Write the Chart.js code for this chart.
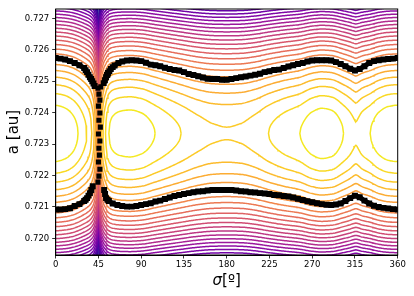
<!DOCTYPE html>
<html><head><meta charset="utf-8">
<script src="https://cdn.jsdelivr.net/npm/chart.js@4.4.1/dist/chart.umd.min.js"></script>
<style>html,body{margin:0;padding:0;background:#fff;}</style>
</head><body>
<canvas id="c" width="414" height="296"></canvas>
<script>
// ---- tick labels ----
const xTicks = [0, 45, 90, 135, 180, 225, 270, 315, 360];
const yTicks = [0.720, 0.721, 0.722, 0.723, 0.724, 0.725, 0.726, 0.727];

// ---- contour field: estimated potential profile g(sigma); contour lines satisfy d^2 + g = level, d in 1e-3 au ----
const sigmaNodes = [0, 10, 18, 23.5, 28, 32.6, 36, 38, 39, 40, 41, 42, 43, 44, 45, 46, 47, 48, 49, 50, 51, 52.5,
  54, 56, 60, 68, 78, 90, 104.6, 118, 132, 150, 165, 180, 195, 210, 224, 240, 257, 270, 280, 290, 303, 310, 313,
  316, 319, 322, 331, 340, 350, 360];
const potentialNodes = [0.05, 0.2, 0.5, 0.85, 1.22, 1.65, 2.05, 2.45, 2.7, 3.0, 3.5, 4.0, 4.6, 5.5, 1000, 5.5, 4.2,
  3.4, 2.8, 2.4, 2.0, 1.65, 1.2, 0.85, 0.55, 0.35, 0.29, 0.42, 0.85, 1.25, 1.65, 2.12, 2.35, 2.41, 2.35, 2.08, 1.65,
  1.22, 0.85, 0.38, 0.21, 0.3, 0.85, 1.2, 1.38, 1.51, 1.38, 1.2, 0.85, 0.4, 0.12, 0.05];
const contourLevels = [0.85, 1.65, 2.45, 3.25, 4.05, 4.85, 5.65, 6.45, 7.25, 8.05, 8.85, 9.65, 10.45, 11.25,
  12.05, 12.85, 13.65, 14.45, 15.25, 16.05, 16.85, 17.65, 18.45, 19.25, 20.05, 20.85, 21.65];
const colorRange = [0.05, 21.65];
const centerA = 0.72334;
const levelUnit = 0.001;
const gridStep = 1;

// ---- orbit (black squares) ----
const orbitUpperSigma = [0,5,10,15,20,25,30,31.5,33,34.5,36,37.3,38.5,39.8,41,50.5,51.8,53,54,55,56.5,58,60,62,66,70,75,80,85,90,95,100,105,110,115,120,125,130,135,140,145,150,155,160,165,170,175,180,185,190,195,200,205,210,215,220,225,230,235,240,245,250,255,260,265,270,275,280,285,290,295,300,305,310,315,320,325,330,335,340,345,350,355,360];
const orbitUpperA = [0.72574,0.72572,0.72569,0.72564,0.72558,0.72551,0.72542,0.72535,0.72529,0.72521,0.72513,0.72507,0.72500,0.72493,0.72485,0.72494,0.72503,0.72513,0.72520,0.72526,0.72532,0.72539,0.72545,0.72550,0.72558,0.72563,0.72566,0.72567,0.72566,0.72564,0.72559,0.72553,0.72551,0.72548,0.72543,0.72539,0.72536,0.72534,0.72529,0.72523,0.72520,0.72516,0.72512,0.72508,0.72507,0.72507,0.72505,0.72505,0.72507,0.72510,0.72513,0.72515,0.72518,0.72521,0.72524,0.72529,0.72532,0.72536,0.72537,0.72542,0.72547,0.72551,0.72555,0.72558,0.72563,0.72566,0.72567,0.72567,0.72567,0.72566,0.72561,0.72555,0.72548,0.72540,0.72534,0.72539,0.72548,0.72558,0.72564,0.72567,0.72569,0.72571,0.72572,0.72574];
const orbitLowerSigma = [0,5,10,15,20,25,30,31.5,33,34.5,36,37.5,39,51,52,53,54.5,56,60,65,70,75,80,85,90,95,100,105,110,115,120,125,130,135,140,145,150,155,160,165,170,175,180,185,190,195,200,205,210,215,220,225,230,235,240,245,250,255,260,265,270,275,280,285,290,295,300,305,310,315,320,325,330,335,340,345,350,355,360];
const orbitLowerA = [0.72092,0.72092,0.72093,0.72096,0.72103,0.72109,0.72119,0.72123,0.72128,0.72136,0.72144,0.72154,0.72166,0.72154,0.72141,0.72128,0.72123,0.72119,0.72111,0.72106,0.72103,0.72101,0.72101,0.72103,0.72106,0.72109,0.72112,0.72117,0.72120,0.72125,0.72130,0.72135,0.72138,0.72141,0.72144,0.72147,0.72149,0.72150,0.72152,0.72154,0.72154,0.72154,0.72154,0.72154,0.72152,0.72150,0.72149,0.72147,0.72146,0.72144,0.72143,0.72141,0.72138,0.72137,0.72135,0.72133,0.72130,0.72126,0.72122,0.72118,0.72115,0.72112,0.72109,0.72107,0.72106,0.72108,0.72111,0.72119,0.72128,0.72136,0.72131,0.72120,0.72111,0.72104,0.72100,0.72097,0.72095,0.72093,0.72092];
const orbitCrossSigma = [44.5, 47.5, 45.5, 46.5, 45, 46.5, 45.5, 47, 45, 46.5, 45.5, 46, 45, 46.5, 45.5, 44.5];
const orbitCrossA = [0.72478, 0.72482, 0.72459, 0.72440, 0.72421, 0.72399, 0.72376, 0.72354, 0.72332, 0.72310, 0.72287, 0.72265, 0.72243, 0.72220, 0.72198, 0.72179];

// ---- helpers ----
function monotoneInterp(xs, ys) {
  const n = xs.length, dx = [], m = [], t = new Array(n);
  for (let i = 0; i < n - 1; i++) { dx[i] = xs[i+1] - xs[i]; m[i] = (ys[i+1] - ys[i]) / dx[i]; }
  t[0] = t[n-1] = (m[0] + m[n-2]) / 2;
  for (let i = 1; i < n - 1; i++) {
    if (m[i-1] * m[i] <= 0) t[i] = 0;
    else { const w1 = 2*dx[i] + dx[i-1], w2 = dx[i] + 2*dx[i-1]; t[i] = (w1 + w2) / (w1 / m[i-1] + w2 / m[i]); }
  }
  return function (x) {
    let i = 0;
    while (i < n - 2 && x > xs[i+1]) i++;
    const h = dx[i], s = (x - xs[i]) / h, s2 = s*s, s3 = s2*s;
    return (2*s3 - 3*s2 + 1) * ys[i] + (s3 - 2*s2 + s) * h * t[i] + (-2*s3 + 3*s2) * ys[i+1] + (s3 - s2) * h * t[i+1];
  };
}
const PLASMA = ['#0d0887','#41049d','#6a00a8','#8f0da4','#b12a90','#cc4778','#e16462','#f2844b','#fca636','#fcce25','#f0f921'];
function hex(c){return [parseInt(c.slice(1,3),16),parseInt(c.slice(3,5),16),parseInt(c.slice(5,7),16)];}
function plasma(t) {
  t = Math.max(0, Math.min(1, t));
  const p = t * 10, i = Math.min(9, Math.floor(p)), f = p - i;
  const a = hex(PLASMA[i]), b = hex(PLASMA[i+1]);
  return 'rgb(' + a.map((v,k)=>Math.round(v + (b[k]-v)*f)).join(',') + ')';
}

const G = monotoneInterp(sigmaNodes, potentialNodes);
const grid = [];
for (let s = 0; s <= 360; s += gridStep) grid.push(s);
const gVals = grid.map(G);

function contourPaths(c) {
  const f = gVals.map(g => c - g);
  const paths = []; let cur = null;
  for (let i = 0; i < grid.length; i++) {
    const fi = f[i];
    if (fi > 0) {
      if (!cur) {
        cur = { pts: [], openL: i === 0 };
        if (i > 0) cur.pts.push([grid[i-1] + (grid[i]-grid[i-1]) * (-f[i-1]) / (fi - f[i-1]), 0]);
      }
      cur.pts.push([grid[i], Math.sqrt(fi)]);
    } else if (cur) {
      cur.pts.push([grid[i-1] + (grid[i]-grid[i-1]) * f[i-1] / (f[i-1] - fi), 0]);
      paths.push(cur); cur = null;
    }
  }
  if (cur) paths.push(cur);
  return paths.map(p => {
    const up = p.pts.map(([s, d]) => ({ x: s, y: centerA + d * levelUnit }));
    const lo = p.pts.map(([s, d]) => ({ x: s, y: centerA - d * levelUnit })).reverse();
    return p.openL ? up.concat(lo) : lo.concat(up);
  });
}

// Chart.js draws dataset 0 on top: orbit first, then levels from yellow (inner) to purple (outer)
const datasets = [];
function orbitSet(sig, a, r, joined) {
  const data = [];
  sig.forEach((s, i) => {
    if (joined && i > 0 && s - sig[i-1] > 6) data.push({ x: (s + sig[i-1]) / 2, y: null });
    data.push({ x: s, y: a[i] });
  });
  return { data, showLine: joined, spanGaps: false, borderColor: '#000', borderWidth: joined ? 5 : 0,
    pointStyle: 'rect', pointRadius: r, backgroundColor: '#000', pointBorderWidth: 0, tension: 0 };
}
datasets.push(orbitSet(orbitUpperSigma, orbitUpperA, 4.2, true));
datasets.push(orbitSet(orbitLowerSigma, orbitLowerA, 4.2, true));
datasets.push(orbitSet(orbitCrossSigma, orbitCrossA, 3.6, false));
for (let k = 0; k < contourLevels.length; k++) {
  const c = contourLevels[k];
  const col = plasma(1 - (c - colorRange[0]) / (colorRange[1] - colorRange[0]));
  contourPaths(c).forEach(pts => datasets.push({
    data: pts, showLine: true, borderColor: col, borderWidth: 1.5, pointRadius: 0, fill: false, tension: 0
  }));
}

const framePlugin = {
  id: 'frame',
  afterDraw(chart) {
    const { ctx, chartArea: a } = chart;
    ctx.save();
    ctx.strokeStyle = '#000'; ctx.lineWidth = 1;
    ctx.strokeRect(a.left, a.top, a.right - a.left, a.bottom - a.top);
    ctx.fillStyle = '#000'; ctx.textBaseline = 'alphabetic';
    const f1 = 'italic 15px "DejaVu Sans"', f2 = '15px "DejaVu Sans"';
    ctx.font = f1; const w1 = ctx.measureText('σ').width;
    ctx.font = f2; const w2 = ctx.measureText('[º]').width;
    const x0 = (a.left + a.right) / 2 - (w1 + w2) / 2, yb = 285;
    ctx.font = f1; ctx.fillText('σ', x0, yb);
    ctx.font = f2; ctx.fillText('[º]', x0 + w1, yb);
    ctx.restore();
  }
};

const tickFont = { family: 'DejaVu Sans', size: 8.5 };
new Chart(document.getElementById('c'), {
  type: 'scatter',
  data: { datasets },
  plugins: [framePlugin],
  options: {
    responsive: false, animation: false, events: [],
    layout: { padding: { top: 9, right: 16.3, left: 0, bottom: 0 } },
    plugins: { legend: { display: false }, tooltip: { enabled: false } },
    scales: {
      x: {
        type: 'linear', min: 0, max: 360,
        afterBuildTicks: s => { s.ticks = xTicks.map(v => ({ value: v })); },
        afterFit: s => { s.height = 41; },
        ticks: { font: tickFont, color: '#000', padding: 1, maxRotation: 0, autoSkip: false, callback: v => String(v) },
        grid: { drawOnChartArea: false, drawTicks: true, tickLength: 3.5, tickColor: '#000', tickWidth: 0.8 },
        border: { display: true, color: '#000', width: 1 }
      },
      y: {
        type: 'linear', min: 0.71947, max: 0.72730,
        afterBuildTicks: s => { s.ticks = yTicks.map(v => ({ value: v })); },
        afterFit: s => { s.width = 55.7; },
        ticks: { font: tickFont, color: '#000', padding: 3, autoSkip: false, callback: v => v.toFixed(3) },
        grid: { drawOnChartArea: false, drawTicks: true, tickLength: 3.5, tickColor: '#000', tickWidth: 0.8 },
        border: { display: true, color: '#000', width: 1 },
        title: { display: true, text: 'a [au]', color: '#000', font: { family: 'DejaVu Sans', size: 15 }, padding: { top: 5, bottom: 0 } }
      }
    }
  }
});
</script>
</body></html>
